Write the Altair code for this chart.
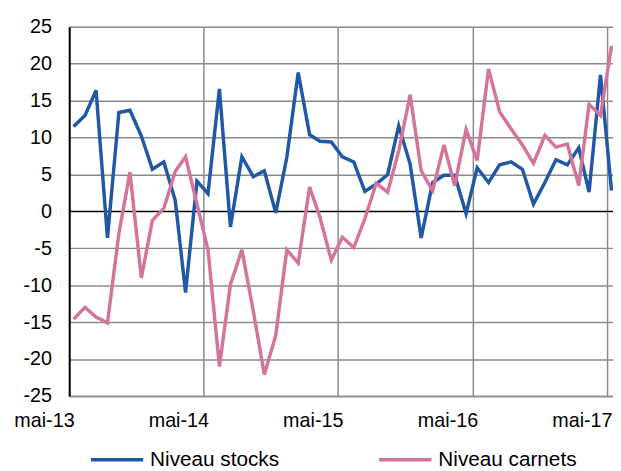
import altair as alt
import pandas as pd

# Monthly observations, May 2013 .. May 2017 (plotted mid-month)
months = pd.date_range("2013-05-01", periods=49, freq="MS")
dates = [(m + pd.Timedelta(days=12)).strftime("%Y-%m-%d") for m in months]

series_names = ["Niveau stocks", "Niveau carnets"]

niveau_stocks = [
    11.5, 13.0, 16.4, -3.6, 13.4, 13.7, 10.2, 5.7, 6.7, 1.5,
    -11.0, 4.1, 2.4, 16.6, -2.1, 7.4, 4.7, 5.5, -0.2, 7.3,
    18.8, 10.4, 9.5, 9.4, 7.4, 6.7, 2.7, 3.7, 5.0, 11.6,
    6.4, -3.6, 3.9, 4.9, 4.9, -0.3, 5.9, 3.9, 6.3, 6.7,
    5.7, 1.0, 3.9, 7.0, 6.3, 8.6, 2.6, 18.5, 2.8,
]

niveau_carnets = [
    -14.6, -13.0, -14.3, -15.1, -3.0, 5.3, -9.0, -1.2, 0.4, 5.4,
    7.4, 1.0, -5.2, -21.0, -9.9, -5.2, -13.5, -22.1, -16.8, -5.2,
    -7.0, 3.3, -0.8, -6.6, -3.5, -4.9, -1.0, 3.8, 2.6, 8.2,
    15.8, 5.5, 2.8, 9.0, 3.5, 11.1, 6.9, 19.3, 13.5, 11.2,
    9.0, 6.5, 10.3, 8.7, 9.1, 3.5, 14.5, 13.0, 22.4,
]

y_ticks = [-25, -20, -15, -10, -5, 0, 5, 10, 15, 20, 25]
x_tick_years = [2013, 2014, 2015, 2016, 2017]

colors = ["#2058a6", "#d5749b"]

df = pd.DataFrame({
    "date": dates * 2,
    "serie": [series_names[0]] * len(dates) + [series_names[1]] * len(dates),
    "valeur": niveau_stocks + niveau_carnets,
})

FONT = "Liberation Sans"
GRID = "#8a8a8a"

y_scale = alt.Scale(domain=[-25, 25], nice=False, zero=False)
y_axis = alt.Axis(
    values=y_ticks,
    labelExpr="'' + datum.value",
    title=None,
    grid=True,
    gridColor=GRID,
    gridWidth=1.5,
    ticks=False,
    domainColor="#000000",
    domainWidth=2,
    labelPadding=18,
    labelFlush=False,
    labelOverlap=False,
    labelFont=FONT,
    labelFontSize=20,
    labelColor="#000000",
)

x_enc = alt.X(
    "date:T",
    scale=alt.Scale(
        type="utc",
        domain=[
            alt.DateTime(year=2013, month=5, date=1, utc=True),
            alt.DateTime(year=2017, month=5, date=17, utc=True),
        ],
    ),
    axis=alt.Axis(
        values=[alt.DateTime(year=y, month=5, date=1, utc=True) for y in x_tick_years],
        labelExpr="'mai-' + utcFormat(datum.value, '%y')",
        title=None,
        grid=True,
        gridColor=GRID,
        gridWidth=1.5,
        ticks=False,
        domainColor=GRID,
        domainWidth=1.5,
        labelAlign="right",
        labelBaseline="top",
        labelOffset=5,
        labelPadding=15,
        labelFlush=False,
        labelOverlap=False,
        labelFont=FONT,
        labelFontSize=20,
        labelColor="#000000",
    ),
)

lines = alt.Chart(df).mark_line(strokeWidth=3.5, clip=True).encode(
    x=x_enc,
    y=alt.Y("valeur:Q", scale=y_scale, axis=y_axis),
    color=alt.Color(
        "serie:N",
        scale=alt.Scale(domain=series_names, range=colors),
        legend=alt.Legend(
            title=None,
            orient="none",
            legendX=20,
            legendY=410,
            direction="horizontal",
            symbolType="stroke",
            symbolSize=2809,
            symbolStrokeWidth=3.5,
            labelFont=FONT,
            labelFontSize=21,
            labelColor="#000000",
            labelOffset=5,
            columnPadding=94,
            padding=0,
        ),
    ),
    order=alt.Order("date:T"),
)

zero = alt.Chart(pd.DataFrame({"valeur": [0]})).mark_rule(color="#000000", strokeWidth=1.5).encode(
    y=alt.Y("valeur:Q", scale=y_scale, axis=y_axis)
)

chart = alt.layer(zero, lines).properties(
    width=551,
    height=374,
    autosize=alt.AutoSizeParams(type="none"),
    padding={"left": 62, "top": 16, "right": 0, "bottom": 73},
).configure_view(stroke=None).configure(background="#ffffff")

chart.save("out.html", embed_options={"renderer": "svg", "actions": False})
